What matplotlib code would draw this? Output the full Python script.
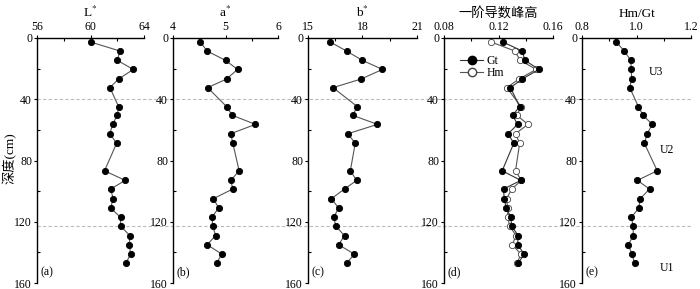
import matplotlib
matplotlib.use("Agg")
import matplotlib.pyplot as plt
from matplotlib.lines import Line2D
from matplotlib.ticker import MultipleLocator

plt.rcParams['font.family'] = ['Liberation Serif', 'Noto Sans CJK SC']
plt.rcParams['mathtext.fontset'] = 'stix'

depth = [2.6, 8.5, 14.6, 20.5, 26.8, 32.4, 44.8, 50.5, 56.4, 62.5, 68.8,
         86.7, 93.0, 98.6, 104.9, 111.0, 117.1, 122.8, 129.1, 135.0, 141.1, 147.0]
L_star = [60.0, 62.2, 62.0, 63.2, 62.1, 61.45, 62.1, 62.0, 61.65, 61.45, 61.95,
          61.05, 62.6, 61.5, 61.7, 61.5, 62.25, 62.25, 62.95, 62.9, 63.0, 62.65]
a_star = [4.52, 4.65, 5.0, 5.23, 5.02, 4.66, 5.02, 5.13, 5.57, 5.10, 5.14,
          5.26, 5.10, 5.14, 4.77, 4.87, 4.74, 4.76, 4.81, 4.65, 4.93, 4.83]
b_star = [16.22, 17.12, 17.99, 19.10, 17.92, 16.38, 17.71, 17.46, 18.82, 17.20, 17.60,
          17.33, 17.68, 17.01, 16.29, 16.68, 16.42, 16.53, 17.01, 16.68, 17.55, 17.14]
gt = [0.1232, 0.1374, 0.1394, 0.1497, 0.1374, 0.1288, 0.1355, 0.1303, 0.1340, 0.1271, 0.1312,
      0.1227, 0.1364, 0.1237, 0.1242, 0.1256, 0.1291, 0.1296, 0.1345, 0.1340, 0.1389, 0.1345]
hm = [0.1146, 0.1320, 0.1359, 0.1477, 0.1350, 0.1261, 0.1365, 0.1335, 0.1416, 0.1325, 0.1355,
      0.1325, 0.1368, 0.1298, 0.1259, 0.1267, 0.1268, 0.1282, 0.1329, 0.1300, 0.1365, 0.1336]
hm_gt = [0.926, 0.955, 0.979, 0.981, 0.982, 0.975, 1.007, 1.024, 1.058, 1.039, 1.029,
         1.076, 1.003, 1.048, 1.014, 1.009, 0.981, 0.988, 0.988, 0.970, 0.983, 0.993]

titles = ['L$^{*}$', 'a$^{*}$', 'b$^{*}$', '一阶导数峰高', 'Hm/Gt']
xlims = [(56, 64), (4, 6), (15, 21), (0.08, 0.16), (0.8, 1.2)]
xmajor = [4, 1, 3, 0.04, 0.2]
xlabels_fmt = ['{:.0f}', '{:.0f}', '{:.0f}', '{:.2f}', '{:.1f}']
panel_tags = ['(a)', '(b)', '(c)', '(d)', '(e)']
boundaries = [40, 122.5]
units = [('U3', 1.07, 22), ('U2', 1.11, 73), ('U1', 1.11, 150)]

W, H = 700, 289
lefts = [37, 173, 308, 444, 582]
widths = [107, 105, 109, 109, 109]
top_px, bot_px = 38, 283

fig = plt.figure(figsize=(7.0, 2.89), dpi=100)
axes = []
for i in range(5):
    ax = fig.add_axes([lefts[i] / W, (H - bot_px) / H, widths[i] / W, (bot_px - top_px) / H])
    axes.append(ax)
    ax.set_xlim(*xlims[i])
    ax.set_ylim(160, 0)
    ax.xaxis.set_ticks_position('top')
    ax.xaxis.set_label_position('top')
    for s in ['right', 'bottom']:
        ax.spines[s].set_visible(False)
    for s in ['left', 'top']:
        ax.spines[s].set_linewidth(1.0)
    ax.xaxis.set_major_locator(MultipleLocator(xmajor[i]))
    ax.xaxis.set_minor_locator(MultipleLocator(xmajor[i] / 2))
    ax.yaxis.set_major_locator(MultipleLocator(40))
    ax.yaxis.set_minor_locator(MultipleLocator(20))
    ax.set_xticks([xlims[i][0] + k * xmajor[i] for k in range(3)])
    ax.set_xticklabels([xlabels_fmt[i].format(xlims[i][0] + k * xmajor[i]) for k in range(3)])
    ax.tick_params(axis='both', which='major', direction='out', length=2.5, width=0.8,
                   labelsize=8.5, pad=1)
    ax.tick_params(axis='both', which='minor', direction='in', length=2.5, width=0.8)
    ax.set_title(titles[i], fontsize=9.5, pad=3)
    ax.text(0.03, 0.02, panel_tags[i], transform=ax.transAxes, fontsize=8.5,
            ha='left', va='bottom')
    ax.patch.set_alpha(0)

line_kw = dict(color='#555555', lw=0.8, marker='o', ms=4.5, mec='black', mfc='black', mew=0.6)
axes[0].plot(L_star, depth, **line_kw)
axes[1].plot(a_star, depth, **line_kw)
axes[2].plot(b_star, depth, **line_kw)
axes[3].plot(hm, depth, color='#555555', lw=0.8, marker='o', ms=4.5, mec='#444444',
             mfc='white', mew=0.6, label='Hm', zorder=2)
axes[3].plot(gt, depth, color='#333333', lw=0.8, marker='o', ms=4.5, mec='black',
             mfc='black', mew=0.6, label='Gt', zorder=3)
axes[4].plot(hm_gt, depth, **line_kw)

h = [Line2D([], [], color='#333333', lw=0.8, marker='o', ms=6, mfc='black', mec='black'),
     Line2D([], [], color='#555555', lw=0.8, marker='o', ms=6, mfc='white', mec='#444444')]
axes[3].legend(h, ['Gt', 'Hm'], loc='upper left', bbox_to_anchor=(0.08, 0.96), frameon=False,
               fontsize=8.5, handlelength=2.0, handletextpad=0.3, labelspacing=0.05,
               borderpad=0.1)

for name, x, d in units:
    axes[4].text(x, d, name, fontsize=8.5, ha='center', va='center')

# dashed boundary lines spanning all panels
inv = fig.transFigure.inverted()
for b in boundaries:
    x0, y0 = inv.transform(axes[0].transData.transform((xlims[0][0], b)))
    x1, _ = inv.transform(axes[4].transData.transform((xlims[4][1], b)))
    fig.add_artist(Line2D([x0, x1], [y0, y0], transform=fig.transFigure,
                          color='#bbbbbb', lw=0.8, ls=(0, (3, 2)), zorder=0))

fig.text(10 / W, 1 - 158 / H, '深度(cm)', rotation=90, ha='center', va='center', fontsize=9.5)

fig.savefig('out.png', dpi=100)
